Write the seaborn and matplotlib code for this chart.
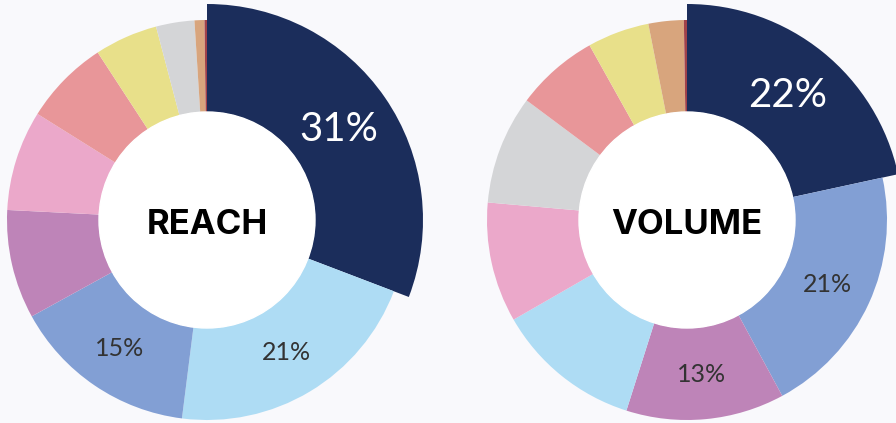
import matplotlib
matplotlib.use("Agg")
import numpy as np
import matplotlib.pyplot as plt
import seaborn as sns

sns.set_theme(style="white")
plt.rcParams['font.family'] = ['Lato', 'DejaVu Sans']

# slice order: clockwise from 12 o'clock
reach_vals = [30.8, 21.2, 15.0, 8.8, 8.1, 6.9, 5.1, 3.1, 0.8, 0.2]
reach_colors = ['#1b2d5b', '#aedcf4', '#829fd4', '#be84b8', '#eba8ca',
                '#e89699', '#e8e08a', '#d4d5d7', '#d8a57d', '#a0424a']
reach_labels = ['31%', '21%', '15%', '', '', '', '', '', '', '']

volume_vals = [21.6, 20.5, 12.8, 11.8, 9.7, 8.8, 6.7, 5.0, 2.85, 0.25]
volume_colors = ['#1b2d5b', '#829fd4', '#be84b8', '#aedcf4', '#eba8ca',
                 '#d4d5d7', '#e89699', '#e8e08a', '#d8a57d', '#a0424a']
volume_labels = ['22%', '21%', '13%', '', '', '', '', '', '', '']

fig = plt.figure(figsize=(8.96, 4.23), dpi=100)
fig.patch.set_facecolor('#f9f9fc')
ax = fig.add_axes([0, 0, 1, 1])

R, R_BIG, R_IN = 200, 216, 108


def donut(vals, colors, labels, cx, cy, title):
    wedges, _ = ax.pie(vals, colors=colors, startangle=90, counterclock=False,
                       radius=R, center=(cx, cy), frame=True,
                       wedgeprops=dict(width=R - R_IN, linewidth=0))
    # highlighted first slice pokes out
    wedges[0].set_radius(R_BIG)
    wedges[0].set_width(R_BIG - R_IN)
    ax.add_patch(plt.Circle((cx, cy), R_IN, color='white', zorder=3))
    ax.text(cx, cy - 5, title, ha='center', va='center', fontsize=25,
            fontweight='bold', color='black', family=['Inter', 'DejaVu Sans'],
            zorder=4)
    for i, (w, lab) in enumerate(zip(wedges, labels)):
        if not lab:
            continue
        ang = np.deg2rad((w.theta1 + w.theta2) / 2)
        big = i == 0
        rr = 160 if big else 155
        ax.text(cx + rr * np.cos(ang), cy + rr * np.sin(ang), lab,
                ha='center', va='center', fontsize=29 if big else 18,
                color='white' if big else '#333333', zorder=4)


donut(reach_vals, reach_colors, reach_labels, 207, 203, 'REACH')
donut(volume_vals, volume_colors, volume_labels, 687, 203, 'VOLUME')

ax.set_xlim(0, 896)
ax.set_ylim(0, 423)
ax.set_aspect('equal')
ax.axis('off')

fig.savefig('out.png', dpi=100, facecolor=fig.get_facecolor())
